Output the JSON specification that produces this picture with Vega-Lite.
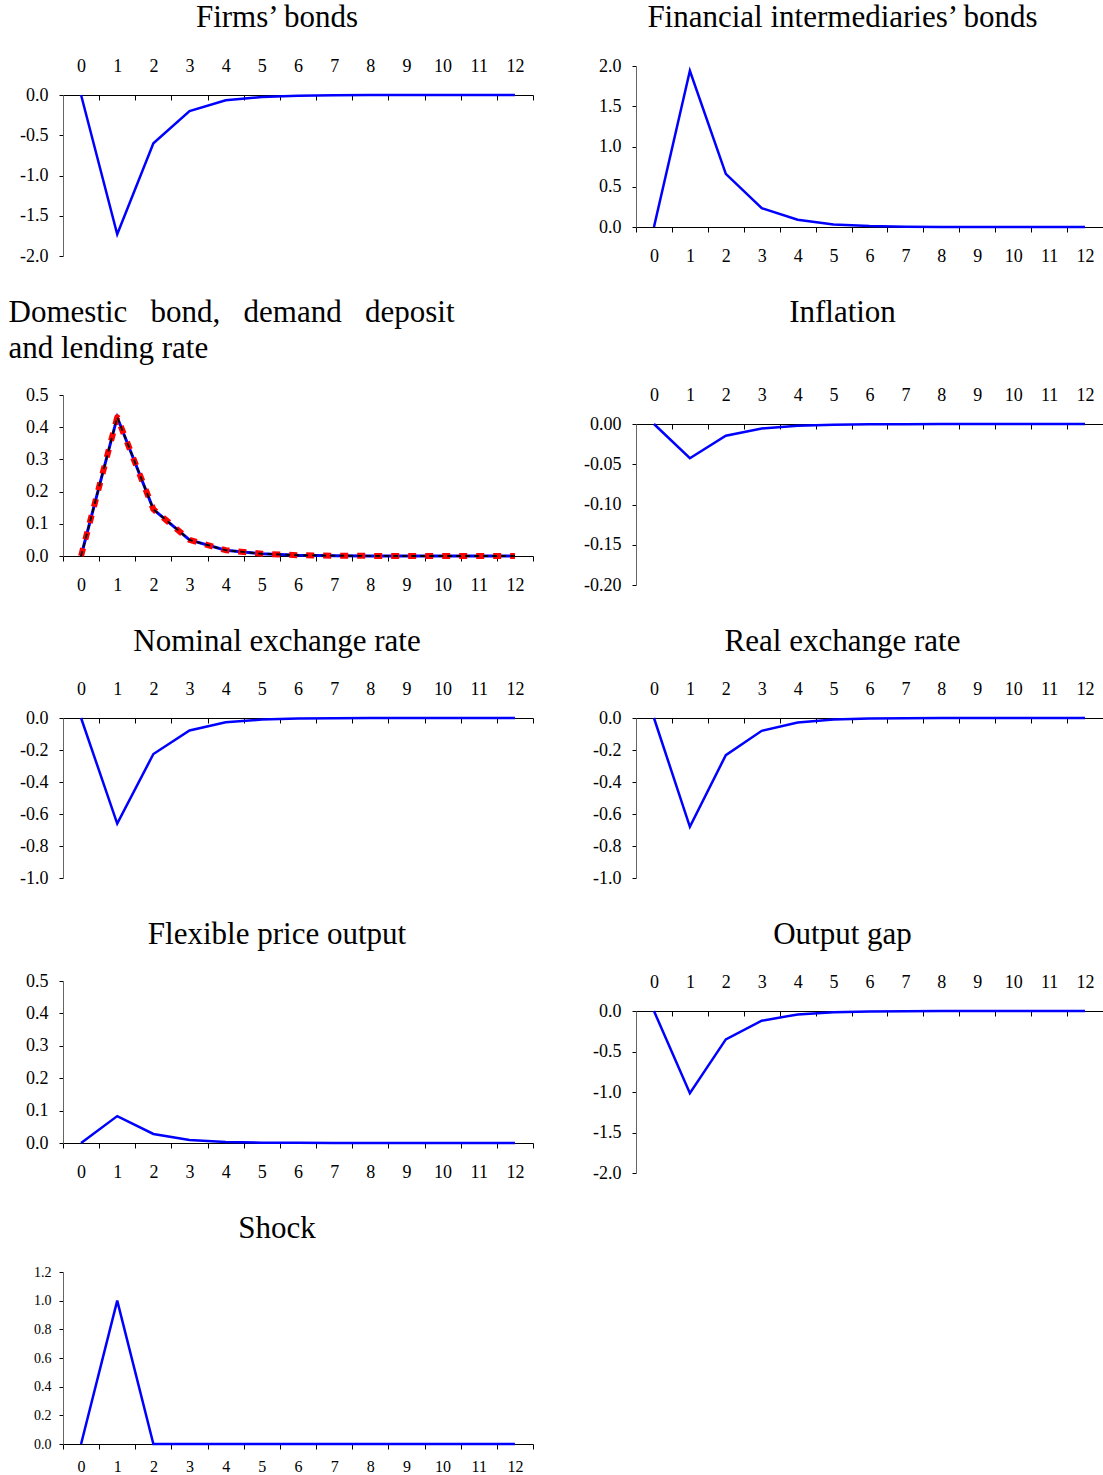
{
  "$schema": "https://vega.github.io/schema/vega-lite/v6.json",
  "padding": {"left": 8, "top": 1, "right": 0, "bottom": 0},
  "background": "white",
  "config": {
    "view": {"stroke": null},
    "font": "Liberation Serif",
    "axis": {"labelFont": "Liberation Serif", "labelFontSize": 18, "labelColor": "black", "tickColor": "black", "domainColor": "black", "grid": false, "title": null},
    "title": {"font": "Liberation Serif", "fontSize": 31, "fontWeight": "normal", "color": "black"}
  },
  "datasets": {
    "d": [
      {"p":"firms","s":"b","t":0,"v":0},{"p":"firms","s":"b","t":1,"v":-1.73},{"p":"firms","s":"b","t":2,"v":-0.6},{"p":"firms","s":"b","t":3,"v":-0.2},{"p":"firms","s":"b","t":4,"v":-0.065},{"p":"firms","s":"b","t":5,"v":-0.025},{"p":"firms","s":"b","t":6,"v":-0.01},{"p":"firms","s":"b","t":7,"v":-0.004},{"p":"firms","s":"b","t":8,"v":-0.0015},{"p":"firms","s":"b","t":9,"v":-0.0006},{"p":"firms","s":"b","t":10,"v":-0.0002},{"p":"firms","s":"b","t":11,"v":-0.0001},{"p":"firms","s":"b","t":12,"v":0},
      {"p":"fin","s":"b","t":0,"v":0},{"p":"fin","s":"b","t":1,"v":1.94},{"p":"fin","s":"b","t":2,"v":0.66},{"p":"fin","s":"b","t":3,"v":0.235},{"p":"fin","s":"b","t":4,"v":0.09},{"p":"fin","s":"b","t":5,"v":0.032},{"p":"fin","s":"b","t":6,"v":0.012},{"p":"fin","s":"b","t":7,"v":0.004},{"p":"fin","s":"b","t":8,"v":0.0015},{"p":"fin","s":"b","t":9,"v":0.0005},{"p":"fin","s":"b","t":10,"v":0.0002},{"p":"fin","s":"b","t":11,"v":0.0001},{"p":"fin","s":"b","t":12,"v":0},
      {"p":"dom","s":"b","t":0,"v":0},{"p":"dom","s":"b","t":1,"v":0.431},{"p":"dom","s":"b","t":2,"v":0.145},{"p":"dom","s":"b","t":3,"v":0.05},{"p":"dom","s":"b","t":4,"v":0.018},{"p":"dom","s":"b","t":5,"v":0.007},{"p":"dom","s":"b","t":6,"v":0.0025},{"p":"dom","s":"b","t":7,"v":0.001},{"p":"dom","s":"b","t":8,"v":0.0003},{"p":"dom","s":"b","t":9,"v":0.0001},{"p":"dom","s":"b","t":10,"v":0},{"p":"dom","s":"b","t":11,"v":0},{"p":"dom","s":"b","t":12,"v":0},
      {"p":"dom","s":"r","t":0,"v":0},{"p":"dom","s":"r","t":1,"v":0.431},{"p":"dom","s":"r","t":2,"v":0.145},{"p":"dom","s":"r","t":3,"v":0.05},{"p":"dom","s":"r","t":4,"v":0.018},{"p":"dom","s":"r","t":5,"v":0.007},{"p":"dom","s":"r","t":6,"v":0.0025},{"p":"dom","s":"r","t":7,"v":0.001},{"p":"dom","s":"r","t":8,"v":0.0003},{"p":"dom","s":"r","t":9,"v":0.0001},{"p":"dom","s":"r","t":10,"v":0},{"p":"dom","s":"r","t":11,"v":0},{"p":"dom","s":"r","t":12,"v":0},
      {"p":"dom","s":"k","t":0,"v":0},{"p":"dom","s":"k","t":1,"v":0.431},{"p":"dom","s":"k","t":2,"v":0.145},{"p":"dom","s":"k","t":3,"v":0.05},{"p":"dom","s":"k","t":4,"v":0.018},{"p":"dom","s":"k","t":5,"v":0.007},{"p":"dom","s":"k","t":6,"v":0.0025},{"p":"dom","s":"k","t":7,"v":0.001},{"p":"dom","s":"k","t":8,"v":0.0003},{"p":"dom","s":"k","t":9,"v":0.0001},{"p":"dom","s":"k","t":10,"v":0},{"p":"dom","s":"k","t":11,"v":0},{"p":"dom","s":"k","t":12,"v":0},
      {"p":"infl","s":"b","t":0,"v":0},{"p":"infl","s":"b","t":1,"v":-0.0425},{"p":"infl","s":"b","t":2,"v":-0.0145},{"p":"infl","s":"b","t":3,"v":-0.0055},{"p":"infl","s":"b","t":4,"v":-0.0022},{"p":"infl","s":"b","t":5,"v":-0.0009},{"p":"infl","s":"b","t":6,"v":-0.0004},{"p":"infl","s":"b","t":7,"v":-0.0002},{"p":"infl","s":"b","t":8,"v":-0.0001},{"p":"infl","s":"b","t":9,"v":0},{"p":"infl","s":"b","t":10,"v":0},{"p":"infl","s":"b","t":11,"v":0},{"p":"infl","s":"b","t":12,"v":0},
      {"p":"nom","s":"b","t":0,"v":0},{"p":"nom","s":"b","t":1,"v":-0.66},{"p":"nom","s":"b","t":2,"v":-0.225},{"p":"nom","s":"b","t":3,"v":-0.078},{"p":"nom","s":"b","t":4,"v":-0.027},{"p":"nom","s":"b","t":5,"v":-0.01},{"p":"nom","s":"b","t":6,"v":-0.0035},{"p":"nom","s":"b","t":7,"v":-0.0012},{"p":"nom","s":"b","t":8,"v":-0.0004},{"p":"nom","s":"b","t":9,"v":-0.0002},{"p":"nom","s":"b","t":10,"v":-0.0001},{"p":"nom","s":"b","t":11,"v":0},{"p":"nom","s":"b","t":12,"v":0},
      {"p":"real","s":"b","t":0,"v":0},{"p":"real","s":"b","t":1,"v":-0.68},{"p":"real","s":"b","t":2,"v":-0.232},{"p":"real","s":"b","t":3,"v":-0.08},{"p":"real","s":"b","t":4,"v":-0.028},{"p":"real","s":"b","t":5,"v":-0.01},{"p":"real","s":"b","t":6,"v":-0.0036},{"p":"real","s":"b","t":7,"v":-0.0013},{"p":"real","s":"b","t":8,"v":-0.0005},{"p":"real","s":"b","t":9,"v":-0.0002},{"p":"real","s":"b","t":10,"v":-0.0001},{"p":"real","s":"b","t":11,"v":0},{"p":"real","s":"b","t":12,"v":0},
      {"p":"flex","s":"b","t":0,"v":0},{"p":"flex","s":"b","t":1,"v":0.083},{"p":"flex","s":"b","t":2,"v":0.028},{"p":"flex","s":"b","t":3,"v":0.009},{"p":"flex","s":"b","t":4,"v":0.003},{"p":"flex","s":"b","t":5,"v":0.001},{"p":"flex","s":"b","t":6,"v":0.0004},{"p":"flex","s":"b","t":7,"v":0.0001},{"p":"flex","s":"b","t":8,"v":0},{"p":"flex","s":"b","t":9,"v":0},{"p":"flex","s":"b","t":10,"v":0},{"p":"flex","s":"b","t":11,"v":0},{"p":"flex","s":"b","t":12,"v":0},
      {"p":"gap","s":"b","t":0,"v":0},{"p":"gap","s":"b","t":1,"v":-1.015},{"p":"gap","s":"b","t":2,"v":-0.35},{"p":"gap","s":"b","t":3,"v":-0.12},{"p":"gap","s":"b","t":4,"v":-0.042},{"p":"gap","s":"b","t":5,"v":-0.015},{"p":"gap","s":"b","t":6,"v":-0.005},{"p":"gap","s":"b","t":7,"v":-0.002},{"p":"gap","s":"b","t":8,"v":-0.0007},{"p":"gap","s":"b","t":9,"v":-0.0002},{"p":"gap","s":"b","t":10,"v":-0.0001},{"p":"gap","s":"b","t":11,"v":0},{"p":"gap","s":"b","t":12,"v":0},
      {"p":"shock","s":"b","t":0,"v":0},{"p":"shock","s":"b","t":1,"v":1},{"p":"shock","s":"b","t":2,"v":0},{"p":"shock","s":"b","t":3,"v":0},{"p":"shock","s":"b","t":4,"v":0},{"p":"shock","s":"b","t":5,"v":0},{"p":"shock","s":"b","t":6,"v":0},{"p":"shock","s":"b","t":7,"v":0},{"p":"shock","s":"b","t":8,"v":0},{"p":"shock","s":"b","t":9,"v":0},{"p":"shock","s":"b","t":10,"v":0},{"p":"shock","s":"b","t":11,"v":0},{"p":"shock","s":"b","t":12,"v":0}
    ]
  },
  "hconcat": [
    {
      "spacing": 0,
      "vconcat": [
        {"width": 10, "height": 1, "data": {"values": []}, "mark": "point"},
        {
          "spacing": 32,
          "vconcat": [
            {
              "data": {"name": "d"}, "width": 470, "height": 161,
              "title": {"text": "Firms’ bonds", "offset": 23, "dx": -21},
              "transform": [{"filter": "datum.p == 'firms'"}],
              "mark": {"type": "line", "color": "#0000ff", "strokeWidth": 2.5},
              "encoding": {
                "x": {"field": "t", "type": "ordinal", "scale": {"type": "band", "domain": [0,1,2,3,4,5,6,7,8,9,10,11,12], "paddingInner": 0, "paddingOuter": 0}, "axis": {"orient": "top", "tickBand": "extent", "labelAngle": 0, "tickSize": -5, "labelPadding": 25}},
                "y": {"field": "v", "type": "quantitative", "scale": {"domain": [-2, 0], "nice": false, "zero": false}, "axis": {"values": [-2, -1.5, -1, -0.5, 0], "labelExpr": "replace(format(datum.value, '.1f'), '\u2212', '-')", "tickSize": 4, "labelPadding": 11, "domainColor": "#666"}}
              }
            },
            {
              "data": {"name": "d"}, "width": 470, "height": 161,
              "title": {"text": ["Domestic\u00a0\u00a0\u00a0bond,\u00a0\u00a0\u00a0demand\u00a0\u00a0\u00a0deposit", "and lending rate"], "offset": 21, "anchor": "start", "dx": -17, "lineHeight": 36},
              "transform": [{"filter": "datum.p == 'dom'"}],
              "encoding": {
                "x": {"field": "t", "type": "ordinal", "scale": {"type": "band", "domain": [0,1,2,3,4,5,6,7,8,9,10,11,12], "paddingInner": 0, "paddingOuter": 0}, "axis": {"orient": "bottom", "tickBand": "extent", "labelAngle": 0, "tickSize": 5, "labelPadding": 15}},
                "y": {"field": "v", "type": "quantitative", "scale": {"domain": [0, 0.5], "nice": false, "zero": false}, "axis": {"values": [0, 0.1, 0.2, 0.3, 0.4, 0.5], "format": ".1f", "tickSize": 4, "labelPadding": 11, "domainColor": "#666"}}
              },
              "layer": [
                {"transform": [{"filter": "datum.s == 'b'"}], "mark": {"type": "line", "color": "#0000ff", "strokeWidth": 3}},
                {"transform": [{"filter": "datum.s == 'r'"}], "mark": {"type": "line", "color": "#ff0000", "strokeWidth": 6, "strokeDash": [8, 9], "strokeJoin": "round"}},
                {"transform": [{"filter": "datum.s == 'k'"}], "mark": {"type": "line", "color": "#000000", "strokeWidth": 1.8, "strokeDash": [5, 4]}}
              ]
            },
            {
              "data": {"name": "d"}, "width": 470, "height": 160,
              "title": {"text": "Nominal exchange rate", "offset": 22, "dx": -21},
              "transform": [{"filter": "datum.p == 'nom'"}],
              "mark": {"type": "line", "color": "#0000ff", "strokeWidth": 2.5},
              "encoding": {
                "x": {"field": "t", "type": "ordinal", "scale": {"type": "band", "domain": [0,1,2,3,4,5,6,7,8,9,10,11,12], "paddingInner": 0, "paddingOuter": 0}, "axis": {"orient": "top", "tickBand": "extent", "labelAngle": 0, "tickSize": -5, "labelPadding": 25}},
                "y": {"field": "v", "type": "quantitative", "scale": {"domain": [-1, 0], "nice": false, "zero": false}, "axis": {"values": [-1, -0.8, -0.6, -0.4, -0.2, 0], "labelExpr": "replace(format(datum.value, '.1f'), '\u2212', '-')", "tickSize": 4, "labelPadding": 11, "domainColor": "#666"}}
              }
            },
            {
              "data": {"name": "d"}, "width": 470, "height": 162,
              "title": {"text": "Flexible price output", "offset": 21, "dx": -21},
              "transform": [{"filter": "datum.p == 'flex'"}],
              "mark": {"type": "line", "color": "#0000ff", "strokeWidth": 2.5},
              "encoding": {
                "x": {"field": "t", "type": "ordinal", "scale": {"type": "band", "domain": [0,1,2,3,4,5,6,7,8,9,10,11,12], "paddingInner": 0, "paddingOuter": 0}, "axis": {"orient": "bottom", "tickBand": "extent", "labelAngle": 0, "tickSize": 5, "labelPadding": 15}},
                "y": {"field": "v", "type": "quantitative", "scale": {"domain": [0, 0.5], "nice": false, "zero": false}, "axis": {"values": [0, 0.1, 0.2, 0.3, 0.4, 0.5], "format": ".1f", "tickSize": 4, "labelPadding": 11, "domainColor": "#666"}}
              }
            },
            {
              "data": {"name": "d"}, "width": 470, "height": 172,
              "title": {"text": "Shock", "offset": 20, "dx": -21},
              "transform": [{"filter": "datum.p == 'shock'"}],
              "mark": {"type": "line", "color": "#0000ff", "strokeWidth": 2.5},
              "encoding": {
                "x": {"field": "t", "type": "ordinal", "scale": {"type": "band", "domain": [0,1,2,3,4,5,6,7,8,9,10,11,12], "paddingInner": 0, "paddingOuter": 0}, "axis": {"orient": "bottom", "tickBand": "extent", "labelAngle": 0, "tickSize": 5, "labelPadding": 9, "labelFontSize": 16}},
                "y": {"field": "v", "type": "quantitative", "scale": {"domain": [0, 1.2], "nice": false, "zero": false}, "axis": {"values": [0, 0.2, 0.4, 0.6, 0.8, 1.0, 1.2], "format": ".1f", "tickSize": 4, "labelPadding": 8, "labelFontSize": 14, "domainColor": "#666"}}
              }
            }
          ]
        }
      ]
    },
    {
      "spacing": 0,
      "vconcat": [
        {"width": 10, "height": 1, "data": {"values": []}, "mark": "point"},
        {
          "spacing": 32,
          "vconcat": [
            {
              "data": {"name": "d"}, "width": 467, "height": 161,
              "title": {"text": "Financial intermediaries’ bonds", "offset": 23, "dx": -27},
              "transform": [{"filter": "datum.p == 'fin'"}],
              "mark": {"type": "line", "color": "#0000ff", "strokeWidth": 2.5},
              "encoding": {
                "x": {"field": "t", "type": "ordinal", "scale": {"type": "band", "domain": [0,1,2,3,4,5,6,7,8,9,10,11,12], "paddingInner": 0, "paddingOuter": 0}, "axis": {"orient": "bottom", "tickBand": "extent", "labelAngle": 0, "tickSize": 5, "labelPadding": 15}},
                "y": {"field": "v", "type": "quantitative", "scale": {"domain": [0, 2], "nice": false, "zero": false}, "axis": {"values": [0, 0.5, 1, 1.5, 2], "format": ".1f", "tickSize": 4, "labelPadding": 11, "domainColor": "#666"}}
              }
            },
            {
              "data": {"name": "d"}, "width": 467, "height": 161,
              "title": {"text": "Inflation", "offset": 57, "dx": -27},
              "transform": [{"filter": "datum.p == 'infl'"}],
              "mark": {"type": "line", "color": "#0000ff", "strokeWidth": 2.5},
              "encoding": {
                "x": {"field": "t", "type": "ordinal", "scale": {"type": "band", "domain": [0,1,2,3,4,5,6,7,8,9,10,11,12], "paddingInner": 0, "paddingOuter": 0}, "axis": {"orient": "top", "tickBand": "extent", "labelAngle": 0, "tickSize": -5, "labelPadding": 25}},
                "y": {"field": "v", "type": "quantitative", "scale": {"domain": [-0.2, 0], "nice": false, "zero": false}, "axis": {"values": [-0.2, -0.15, -0.1, -0.05, 0], "labelExpr": "replace(format(datum.value, '.2f'), '\u2212', '-')", "tickSize": 4, "labelPadding": 11, "domainColor": "#666"}}
              }
            },
            {
              "data": {"name": "d"}, "width": 467, "height": 160,
              "title": {"text": "Real exchange rate", "offset": 22, "dx": -27},
              "transform": [{"filter": "datum.p == 'real'"}],
              "mark": {"type": "line", "color": "#0000ff", "strokeWidth": 2.5},
              "encoding": {
                "x": {"field": "t", "type": "ordinal", "scale": {"type": "band", "domain": [0,1,2,3,4,5,6,7,8,9,10,11,12], "paddingInner": 0, "paddingOuter": 0}, "axis": {"orient": "top", "tickBand": "extent", "labelAngle": 0, "tickSize": -5, "labelPadding": 25}},
                "y": {"field": "v", "type": "quantitative", "scale": {"domain": [-1, 0], "nice": false, "zero": false}, "axis": {"values": [-1, -0.8, -0.6, -0.4, -0.2, 0], "labelExpr": "replace(format(datum.value, '.1f'), '\u2212', '-')", "tickSize": 4, "labelPadding": 11, "domainColor": "#666"}}
              }
            },
            {
              "data": {"name": "d"}, "width": 467, "height": 162,
              "title": {"text": "Output gap", "offset": 22, "dx": -27},
              "transform": [{"filter": "datum.p == 'gap'"}],
              "mark": {"type": "line", "color": "#0000ff", "strokeWidth": 2.5},
              "encoding": {
                "x": {"field": "t", "type": "ordinal", "scale": {"type": "band", "domain": [0,1,2,3,4,5,6,7,8,9,10,11,12], "paddingInner": 0, "paddingOuter": 0}, "axis": {"orient": "top", "tickBand": "extent", "labelAngle": 0, "tickSize": -5, "labelPadding": 25}},
                "y": {"field": "v", "type": "quantitative", "scale": {"domain": [-2, 0], "nice": false, "zero": false}, "axis": {"values": [-2, -1.5, -1, -0.5, 0], "labelExpr": "replace(format(datum.value, '.1f'), '\u2212', '-')", "tickSize": 4, "labelPadding": 11, "domainColor": "#666"}}
              }
            }
          ]
        }
      ]
    }
  ],
  "spacing": 49
}
